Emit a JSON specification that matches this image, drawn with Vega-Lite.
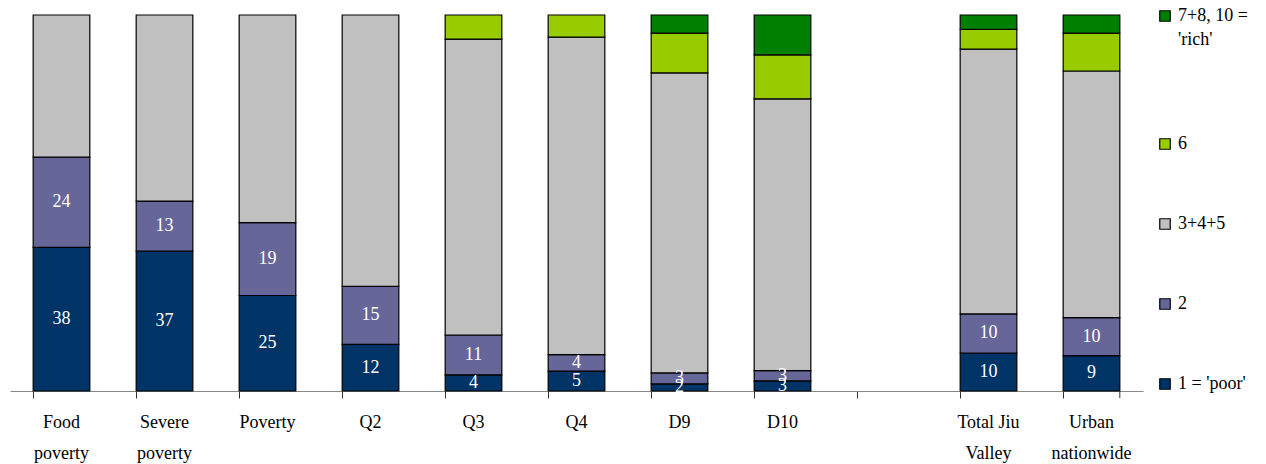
{
  "$schema": "https://vega.github.io/schema/vega-lite/v6.json",
  "width": 1133,
  "height": 376,
  "autosize": {"type": "none"},
  "padding": {"left": 10, "top": 15, "right": 123, "bottom": 73},
  "background": "white",
  "config": {
    "view": {"stroke": null},
    "font": "Liberation Serif",
    "style": {"guide-label": {"font": "Liberation Serif", "fontSize": 18, "fill": "black", "lineHeight": 24}},
    "text": {"font": "Liberation Serif"}
  },
  "data": {"values": [
    {"cat": "Food poverty", "group": "1 = 'poor'", "value": 38.2},
    {"cat": "Food poverty", "group": "2", "value": 24},
    {"cat": "Food poverty", "group": "3+4+5", "value": 37.8},
    {"cat": "Severe poverty", "group": "1 = 'poor'", "value": 37.2},
    {"cat": "Severe poverty", "group": "2", "value": 13.3},
    {"cat": "Severe poverty", "group": "3+4+5", "value": 49.5},
    {"cat": "Poverty", "group": "1 = 'poor'", "value": 25.4},
    {"cat": "Poverty", "group": "2", "value": 19.4},
    {"cat": "Poverty", "group": "3+4+5", "value": 55.2},
    {"cat": "Q2", "group": "1 = 'poor'", "value": 12.4},
    {"cat": "Q2", "group": "2", "value": 15.4},
    {"cat": "Q2", "group": "3+4+5", "value": 72.2},
    {"cat": "Q3", "group": "1 = 'poor'", "value": 4.3},
    {"cat": "Q3", "group": "2", "value": 10.6},
    {"cat": "Q3", "group": "3+4+5", "value": 78.7},
    {"cat": "Q3", "group": "6", "value": 6.4},
    {"cat": "Q4", "group": "1 = 'poor'", "value": 5.3},
    {"cat": "Q4", "group": "2", "value": 4.4},
    {"cat": "Q4", "group": "3+4+5", "value": 84.4},
    {"cat": "Q4", "group": "6", "value": 5.9},
    {"cat": "D9", "group": "1 = 'poor'", "value": 1.9},
    {"cat": "D9", "group": "2", "value": 2.9},
    {"cat": "D9", "group": "3+4+5", "value": 79.8},
    {"cat": "D9", "group": "6", "value": 10.6},
    {"cat": "D9", "group": "7+8, 10 = 'rich'", "value": 4.8},
    {"cat": "D10", "group": "1 = 'poor'", "value": 2.7},
    {"cat": "D10", "group": "2", "value": 2.7},
    {"cat": "D10", "group": "3+4+5", "value": 72.3},
    {"cat": "D10", "group": "6", "value": 11.7},
    {"cat": "D10", "group": "7+8, 10 = 'rich'", "value": 10.6},
    {"cat": "Total Jiu Valley", "group": "1 = 'poor'", "value": 10.1},
    {"cat": "Total Jiu Valley", "group": "2", "value": 10.4},
    {"cat": "Total Jiu Valley", "group": "3+4+5", "value": 70.4},
    {"cat": "Total Jiu Valley", "group": "6", "value": 5.3},
    {"cat": "Total Jiu Valley", "group": "7+8, 10 = 'rich'", "value": 3.8},
    {"cat": "Urban nationwide", "group": "1 = 'poor'", "value": 9.4},
    {"cat": "Urban nationwide", "group": "2", "value": 10.1},
    {"cat": "Urban nationwide", "group": "3+4+5", "value": 65.6},
    {"cat": "Urban nationwide", "group": "6", "value": 10.1},
    {"cat": "Urban nationwide", "group": "7+8, 10 = 'rich'", "value": 4.8}
  ]},
  "encoding": {
    "x": {
      "field": "cat", "type": "nominal",
      "scale": {
        "domain": ["Food poverty", "Severe poverty", "Poverty", "Q2", "Q3", "Q4", "D9", "D10", " ", "Total Jiu Valley", "Urban nationwide"],
        "paddingInner": 0.45, "paddingOuter": 0.225
      },
      "axis": {
        "title": null,
        "bandPosition": 0,
        "labelAngle": 0,
        "labelFont": "Liberation Serif",
        "labelFontSize": 18,
        "labelColor": "black",
        "labelLineHeight": 31,
        "labelPadding": 15,
        "labelBaseline": "top",
        "tickSize": 7,
        "tickColor": "#333333",
        "domainColor": "#888888",
        "labelExpr": "datum.value == 'Total Jiu Valley' ? ['Total Jiu', 'Valley'] : split(datum.value, ' ')"
      }
    }
  },
  "layer": [
    {
      "mark": {"type": "bar", "stroke": "black", "strokeWidth": 1.2},
      "encoding": {
        "y": {"field": "value", "type": "quantitative", "stack": "zero", "scale": {"domain": [0, 100]}, "axis": null},
        "color": {
          "field": "group", "type": "nominal",
          "scale": {
            "domain": ["7+8, 10 = 'rich'", "6", "3+4+5", "2", "1 = 'poor'"],
            "range": ["#008000", "#99CC00", "#C0C0C0", "#666699", "#003366"]
          },
          "legend": {
            "title": null,
            "orient": "none",
            "legendX": 1146,
            "legendY": -8,
            "symbolType": "square",
            "symbolSize": 110,
            "symbolStrokeColor": "black",
            "symbolStrokeWidth": 1.2,
            "labelFont": "Liberation Serif",
            "labelFontSize": 18,
            "labelColor": "black",
            "labelLimit": 200,
            "rowPadding": 62,
            "labelExpr": "datum.value == \"7+8, 10 = 'rich'\" ? ['7+8, 10 =', \"'rich'\", ' '] : datum.value"
          }
        },
        "order": {"field": "group", "sort": "ascending"}
      }
    },
    {
      "transform": [{"filter": "datum.group == '2' || datum.group == \"1 = 'poor'\""}],
      "mark": {"type": "text", "color": "white", "font": "Liberation Serif", "fontSize": 18, "baseline": "middle"},
      "encoding": {
        "y": {"field": "value", "type": "quantitative", "stack": "zero", "bandPosition": 0.5, "scale": {"domain": [0, 100]}},
        "detail": {"field": "group"},
        "order": {"field": "group", "sort": "ascending"},
        "text": {"field": "value", "type": "quantitative", "format": ".0f"}
      }
    },
    {
      "transform": [{"filter": "datum.cat == 'Urban nationwide' && datum.group == '2'"}],
      "mark": {"type": "rule", "color": "#333333", "y2Offset": 7},
      "encoding": {
        "x": {"field": "cat", "type": "nominal", "bandPosition": 1},
        "y": {"datum": 0, "type": "quantitative"},
        "y2": {"datum": 0}
      }
    }
  ]
}
